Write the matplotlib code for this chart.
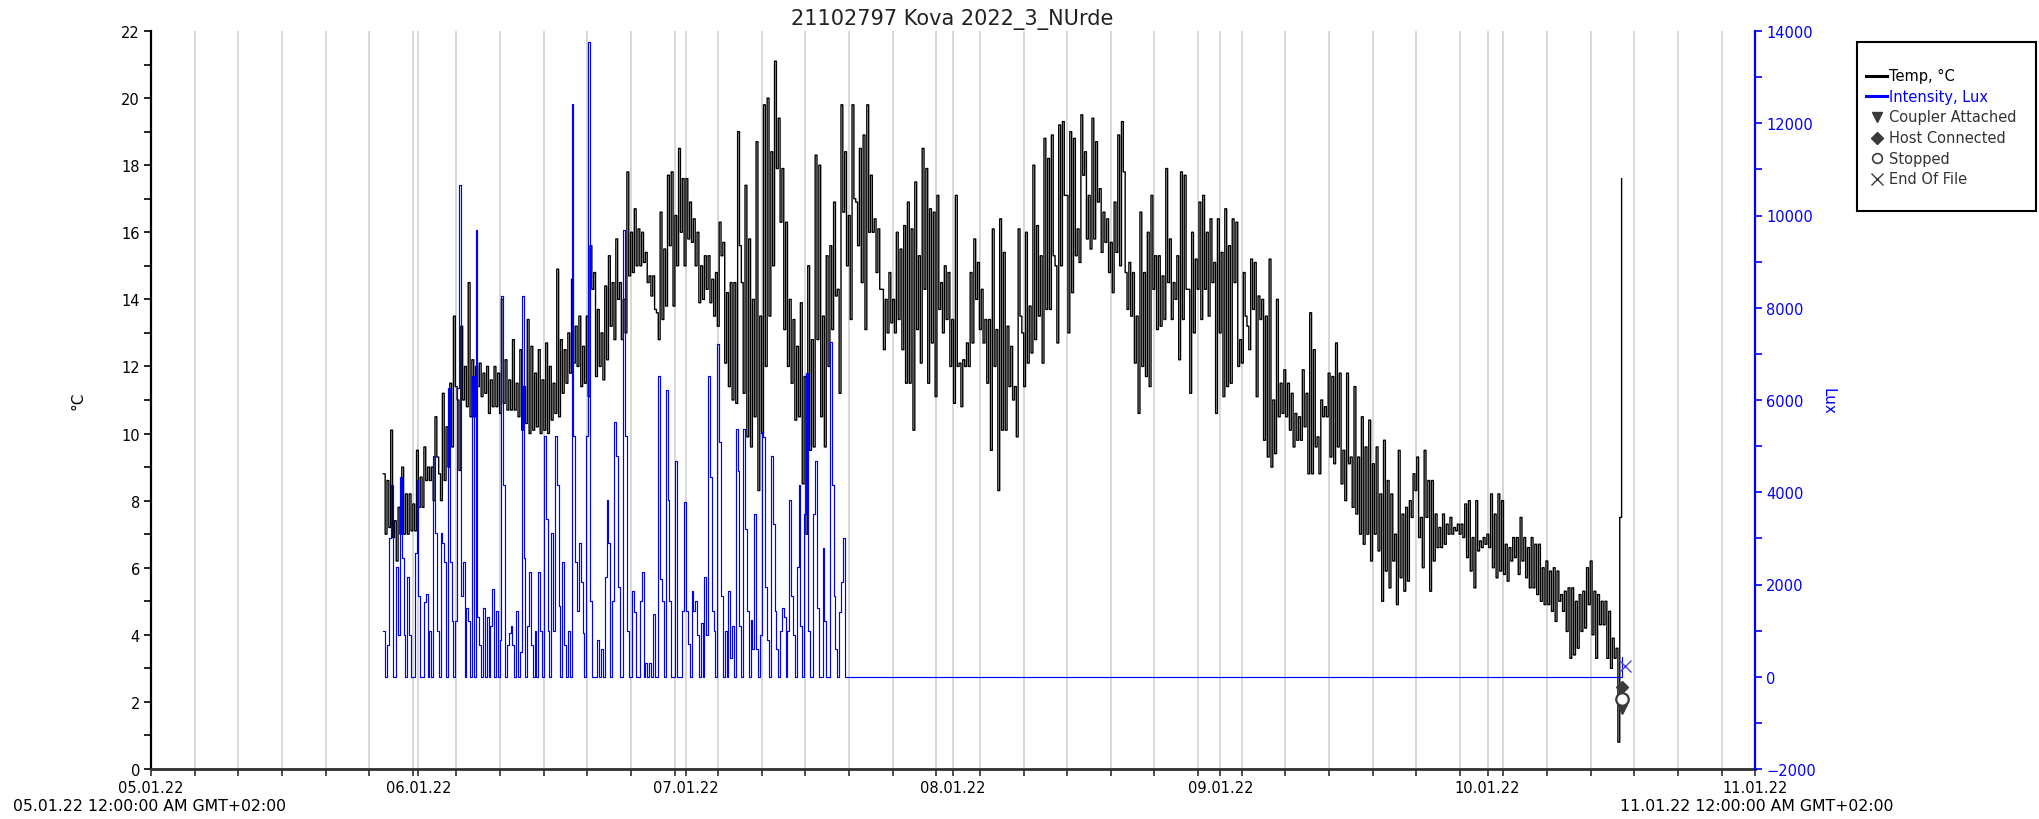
import numpy as np
import matplotlib
matplotlib.use("Agg")
import matplotlib.pyplot as plt
from matplotlib.lines import Line2D
from matplotlib.patches import Rectangle

plt.rcParams['font.family'] = ['DejaVu Sans']

title = "21102797 Kova 2022_3_NUrde"
day_labels = ["05.01.22", "06.01.22", "07.01.22", "08.01.22", "09.01.22", "10.01.22", "11.01.22"]
start_label = "05.01.22 12:00:00 AM GMT+02:00"
end_label = "11.01.22 12:00:00 AM GMT+02:00"

# logging window, in days since 05.01.22 00:00 (10-minute interval)
log_start = 0.869
log_end = 5.501

# temperature, degC (one row = 4 hours of readings)
temp_c = [
    8.8, 7.0, 8.6, 7.2, 10.1, 6.9, 7.4, 6.2, 7.8, 7.0, 9.0, 7.0, 8.2, 7.0, 8.2, 7.1, 7.9, 7.1, 9.5, 7.8, 8.7, 7.8, 9.6, 8.6,
    9.0, 8.6, 9.0, 8.0, 10.5, 9.3, 8.8, 8.0, 11.2, 8.6, 10.2, 9.0, 11.5, 9.6, 13.5, 11.4, 11.0, 8.9, 13.2, 11.0, 12.0, 10.8, 14.5, 10.5,
    12.2, 10.5, 12.0, 11.4, 12.1, 11.1, 11.8, 11.2, 12.0, 10.6, 11.6, 10.8, 12.0, 10.8, 11.8, 10.6, 14.0, 10.9, 12.2, 10.7, 11.6, 10.7, 12.8, 10.7,
    11.5, 10.5, 12.5, 10.1, 11.4, 10.3, 13.4, 10.0, 12.6, 10.1, 11.8, 10.2, 12.5, 10.0, 11.6, 10.1, 12.7, 10.0, 12.0, 10.4, 11.5, 10.6, 14.9, 10.5,
    12.8, 11.2, 12.5, 11.5, 13.0, 11.8, 14.6, 12.1, 13.2, 12.0, 13.5, 11.4, 12.6, 11.5, 13.5, 11.1, 15.6, 14.3, 14.8, 11.7, 13.7, 12.0, 13.0, 11.6,
    14.4, 12.2, 15.3, 13.2, 14.5, 12.8, 15.8, 14.0, 14.5, 12.8, 14.0, 13.0, 17.8, 14.7, 16.0, 14.8, 16.7, 15.0, 16.1, 15.0, 16.0, 15.1, 15.4, 14.5,
    14.7, 14.1, 14.7, 13.7, 13.6, 12.8, 16.6, 13.4, 15.5, 13.8, 17.7, 15.6, 17.8, 13.8, 16.5, 15.0, 18.5, 16.0, 17.6, 15.0, 17.6, 15.8, 16.9, 15.7,
    16.4, 15.0, 16.0, 13.9, 15.0, 14.0, 15.3, 14.3, 15.3, 13.9, 14.6, 13.5, 14.8, 13.2, 16.3, 15.3, 15.7, 12.1, 14.2, 11.4, 14.5, 11.0, 14.5, 10.9,
    19.0, 15.6, 14.5, 11.2, 17.4, 9.9, 15.8, 9.6, 14.0, 10.5, 18.7, 8.3, 13.5, 10.0, 19.8, 12.0, 20.0, 13.5, 18.4, 15.0, 21.1, 17.9, 19.4, 16.3,
    17.9, 13.1, 16.3, 12.0, 14.0, 11.5, 13.4, 10.4, 12.6, 10.5, 13.9, 8.5, 11.7, 7.0, 15.0, 9.5, 12.8, 9.6, 18.3, 12.8, 18.0, 10.5, 13.5, 9.6,
    15.3, 12.0, 15.6, 13.1, 16.9, 14.1, 14.3, 11.2, 19.8, 16.6, 18.4, 15.0, 16.5, 13.4, 19.8, 17.0, 16.9, 15.6, 18.5, 14.5, 18.9, 13.1, 19.8, 16.0,
    17.7, 16.0, 16.4, 14.8, 16.1, 14.3, 14.3, 12.5, 14.0, 13.0, 14.8, 13.3, 14.0, 13.0, 16.0, 13.4, 15.5, 12.5, 16.2, 11.5, 16.9, 11.5, 16.1, 10.1,
    17.5, 13.1, 15.3, 12.1, 18.5, 14.3, 17.9, 11.5, 16.7, 12.7, 16.6, 11.1, 17.1, 13.7, 14.5, 13.0, 15.0, 13.4, 14.8, 12.0, 13.4, 10.9, 17.1, 12.0,
    12.1, 10.8, 12.2, 12.0, 12.7, 12.0, 14.8, 12.7, 15.8, 14.0, 15.1, 13.1, 14.3, 12.7, 13.4, 11.5, 13.4, 9.5, 16.1, 12.0, 13.1, 8.3, 16.4, 10.1,
    15.4, 10.1, 13.2, 11.4, 12.6, 11.0, 11.4, 9.9, 16.1, 13.5, 13.0, 11.4, 16.0, 12.1, 13.8, 12.4, 18.0, 12.8, 16.2, 13.5, 15.3, 12.1, 18.8, 13.7,
    18.2, 13.7, 18.9, 15.3, 15.0, 12.7, 19.2, 15.0, 19.3, 17.1, 17.1, 13.0, 19.0, 14.2, 18.8, 15.3, 16.1, 15.1, 19.5, 17.7, 18.4, 15.8, 17.1, 15.5,
    19.4, 15.8, 18.7, 16.9, 17.3, 15.4, 16.6, 15.7, 16.4, 14.8, 15.7, 14.2, 16.9, 15.4, 18.9, 15.0, 19.3, 17.8, 14.8, 13.7, 15.1, 13.5, 14.8, 12.1,
    13.5, 10.6, 16.6, 12.0, 14.8, 11.7, 16.0, 11.4, 17.1, 14.3, 15.3, 13.1, 15.3, 13.2, 14.7, 13.4, 17.9, 14.5, 15.8, 13.4, 14.5, 14.0, 15.3, 12.2,
    17.8, 13.4, 17.7, 14.3, 14.3, 11.2, 16.0, 13.0, 15.2, 14.3, 16.9, 13.4, 17.1, 14.3, 16.0, 13.5, 16.4, 14.5, 15.1, 10.6, 16.4, 13.0, 15.4, 11.1,
    16.7, 11.4, 15.6, 11.5, 16.4, 14.5, 16.3, 12.0, 12.8, 12.1, 14.8, 13.5, 13.2, 12.5, 15.2, 13.7, 15.1, 11.1, 14.1, 13.4, 14.0, 9.8, 13.5, 9.3,
    15.2, 9.0, 11.0, 9.4, 14.0, 10.5, 11.5, 10.6, 11.9, 10.5, 11.5, 10.1, 11.2, 9.6, 10.6, 9.8, 10.5, 9.8, 11.9, 10.2, 11.2, 8.8, 13.6, 8.8,
    12.5, 9.6, 9.9, 8.8, 11.0, 10.5, 10.8, 10.5, 11.8, 9.3, 11.7, 9.1, 12.7, 9.6, 11.8, 8.5, 9.5, 8.0, 11.8, 9.1, 9.3, 7.8, 11.4, 7.6,
    9.3, 7.0, 10.5, 6.7, 9.6, 7.0, 10.4, 6.2, 9.1, 7.0, 9.6, 6.5, 8.2, 5.0, 9.8, 5.9, 8.6, 5.4, 8.2, 6.2, 7.0, 4.9, 9.5, 5.7,
    7.6, 5.3, 7.8, 5.6, 8.0, 7.5, 8.8, 8.3, 9.3, 6.9, 7.5, 6.0, 9.5, 7.5, 8.6, 5.3, 8.6, 6.2, 7.6, 6.6, 7.2, 6.6, 7.6, 6.7,
    7.3, 7.0, 7.5, 7.0, 7.2, 7.1, 7.3, 7.0, 7.3, 6.9, 7.9, 6.3, 8.0, 5.9, 6.9, 5.4, 8.0, 6.5, 6.8, 6.6, 6.9, 6.7, 7.0, 6.6,
    8.2, 6.0, 7.6, 5.7, 8.2, 5.9, 8.0, 5.8, 6.7, 5.6, 6.6, 6.2, 6.9, 6.3, 6.9, 5.8, 7.5, 6.2, 6.9, 5.7, 6.6, 5.4, 6.9, 5.4,
    6.7, 5.2, 6.7, 5.0, 6.0, 4.9, 6.2, 4.9, 5.9, 4.7, 6.0, 4.4, 5.9, 5.0, 5.2, 4.7, 5.3, 4.1, 5.4, 3.3, 5.4, 3.4, 5.0, 3.6,
    5.2, 4.1, 5.3, 4.2, 6.0, 4.9, 6.2, 4.0, 5.3, 3.3, 5.2, 4.3, 5.0, 4.3, 5.0, 3.3, 4.7, 3.0, 3.9, 3.3, 3.6, 0.8, 7.5, 17.6,
]

# light intensity, lux, while the sensor was exposed (same 4-hour rows)
lux_active = [
    1000, 0, 690, 3000, 4160, 0, 0, 2370, 900, 4320, 2580, 900, 0, 2160, 900, 0, 0, 2690, 4260, 1740, 0, 0, 1630, 1790,
    0, 1000, 0, 4790, 3110, 1000, 0, 3110, 2900, 2480, 0, 6260, 2480, 1200, 0, 1200, 6260, 10670, 1740, 2480, 0, 1500, 1200, 0,
    6520, 0, 9680, 1300, 690, 0, 1480, 0, 1300, 0, 1110, 1900, 0, 1430, 0, 800, 8260, 4160, 0, 690, 950, 1110, 690, 0,
    1430, 0, 530, 8260, 2580, 0, 1110, 2270, 690, 0, 1000, 0, 2270, 1000, 0, 5210, 3420, 1000, 0, 3110, 1000, 5210, 4160, 1530,
    0, 2480, 690, 0, 1000, 0, 12410, 5210, 2480, 1430, 2900, 2060, 950, 0, 5210, 13770, 1640, 0, 0, 0, 800, 0, 600, 0,
    2160, 3840, 2900, 0, 1640, 5525, 4790, 1950, 0, 0, 9680, 5210, 1000, 0, 0, 1850, 1400, 0, 0, 1640, 2270, 0, 300, 0,
    300, 0, 1370, 0, 0, 6520, 2110, 1640, 0, 6210, 3840, 1640, 0, 0, 4680, 0, 0, 0, 1420, 3790, 1420, 700, 0, 1850,
    1420, 1640, 900, 0, 1170, 0, 2160, 900, 6520, 4320, 1420, 1000, 0, 7210, 5100, 1740, 0, 1000, 0, 1850, 400, 1100, 0, 5370,
    4470, 1100, 0, 5370, 3210, 1420, 0, 1220, 600, 3530, 600, 0, 900, 5315, 5200, 1950, 800, 0, 4790, 3320, 1420, 600, 0, 1000,
    1500, 1300, 0, 1000, 3840, 1740, 900, 0, 2370, 4160, 1110, 0, 3530, 6575, 1000, 0, 0, 3530, 4680, 1500, 0, 0, 2790, 1200,
    0, 0, 7260, 4160, 1740, 600, 0, 1400, 2060, 3000, 0,
]
lux_final = 420

# logger events at the end of the record
event_day = 5.501
coupler_attached_c = 1.8
host_connected_c = 2.45
stopped_c = 2.1
end_of_file_day = 5.512
end_of_file_lux = 240

W, H = 2040, 820
fig = plt.figure(figsize=(W / 100, H / 100), dpi=100)
fig.patch.set_facecolor("white")

L, R, T, B = 151, 1755, 32, 770
ax = fig.add_axes([L / W, 1 - B / H, (R - L) / W, (B - T) / H])

t = np.linspace(log_start, log_end, len(temp_c))
lux_t = np.append(t[:len(lux_active)], t[-1])
lux_v = np.append(lux_active, lux_final)

ax.set_xlim(0, 6)
ax.set_ylim(0, 22)
ax.step(t, temp_c, where="post", color="black", lw=1.0, zorder=3)

# event markers
ax.plot([event_day], [host_connected_c], marker="D", ms=6, color="#3a3a3a", zorder=5, clip_on=False)
ax.plot([event_day], [coupler_attached_c], marker="v", ms=7, color="#3a3a3a", zorder=5, clip_on=False)
ax.plot([event_day], [stopped_c], marker="o", ms=9, mfc="white", mec="#3a3a3a", mew=1.6, zorder=6, clip_on=False)

ax2 = ax.twinx()
ax2.set_ylim(-2000, 14000)
ax2.step(lux_t, lux_v, where="post", color="#0000ff", lw=0.85, zorder=4)
ax2.plot([end_of_file_day], [end_of_file_lux], marker="x", ms=9, mew=1.0, color="#4a4ad8", zorder=6)

# x axis: day ticks plus the finer grid
ax.set_xticks(range(7))
ax.set_xticklabels(day_labels)
minor_step = 0.1632
ax.set_xticks(np.arange(1, 37) * minor_step, minor=True)
ax.grid(axis="x", which="both", color="#d8d8d8", lw=1.4)
ax.set_axisbelow(True)

ax.set_yticks(range(0, 23, 2))
ax.set_yticks(range(0, 23), minor=True)
ax2.set_yticks(range(-2000, 14001, 2000))
ax2.set_yticks(range(-2000, 14001, 1000), minor=True)

for a in (ax, ax2):
    a.spines["top"].set_visible(False)
ax.spines["right"].set_visible(False)
ax.spines["left"].set_linewidth(1.6)
ax.spines["left"].set_color("black")
ax.spines["bottom"].set_linewidth(2.0)
ax.spines["bottom"].set_color("#303030")
ax2.spines["left"].set_visible(False)
ax2.spines["bottom"].set_visible(False)
ax2.spines["right"].set_color("#0000ff")
ax2.spines["right"].set_linewidth(1.6)

ax.tick_params(axis="x", which="both", direction="out", length=5, width=1.2, color="#303030",
               labelsize=10.5, pad=3)
ax.tick_params(axis="y", which="both", direction="out", length=5, width=1.2, labelsize=10.5, pad=3)
ax2.tick_params(axis="y", which="both", direction="out", length=5, width=1.2, colors="#0000ff",
                labelsize=10.5, pad=3)

fig.text(13 / W, 1 - 807 / H, start_label, ha="left", va="center", fontsize=11.3)
fig.text(1620 / W, 1 - 807 / H, end_label, ha="left", va="center", fontsize=11.3)
fig.text(952 / W, 1 - 19 / H, title, ha="center", va="center", fontsize=15, color="#222222")
fig.text(78 / W, 1 - 401 / H, "°C", rotation=90, ha="center", va="center", fontsize=11)
fig.text(1828 / W, 1 - 401 / H, "Lux", rotation=270, ha="center", va="center", fontsize=11,
         color="#0000ff")

# legend box
lx0, ly0, lx1, ly1 = 1857, 43, 2036, 212
fig.patches.append(Rectangle((lx0 / W, 1 - ly1 / H), (lx1 - lx0) / W, (ly1 - ly0) / H,
                             transform=fig.transFigure, facecolor="white", edgecolor="black",
                             lw=1.5, zorder=10))
entries = [
    ("Temp, °C", "line", "black", "black"),
    ("Intensity, Lux", "line", "#0000ff", "#0000ff"),
    ("Coupler Attached", "v", "#3a3a3a", "#333333"),
    ("Host Connected", "D", "#3a3a3a", "#333333"),
    ("Stopped", "o", "#3a3a3a", "#333333"),
    ("End Of File", "x", "#3a3a3a", "#333333"),
]
for i, (label, kind, hcol, tcol) in enumerate(entries):
    yy = 1 - (76.5 + 20.7 * i) / H
    if kind == "line":
        fig.lines.append(Line2D([1866 / W, 1887 / W], [yy, yy], transform=fig.transFigure,
                                color=hcol, lw=2.2, zorder=11))
    elif kind == "o":
        fig.lines.append(Line2D([1877 / W], [yy], transform=fig.transFigure, marker="o", ms=7,
                                mfc="white", mec=hcol, mew=1.2, zorder=11))
    elif kind == "x":
        fig.lines.append(Line2D([1877 / W], [yy], transform=fig.transFigure, marker="x", ms=8,
                                mew=1.0, color=hcol, zorder=11))
    else:
        fig.lines.append(Line2D([1877 / W], [yy], transform=fig.transFigure, marker=kind,
                                ms=6.5, color=hcol, zorder=11))
    fig.text(1889 / W, yy, label, ha="left", va="center", fontsize=10.5, color=tcol, zorder=12)

fig.savefig("out.png", dpi=100)
